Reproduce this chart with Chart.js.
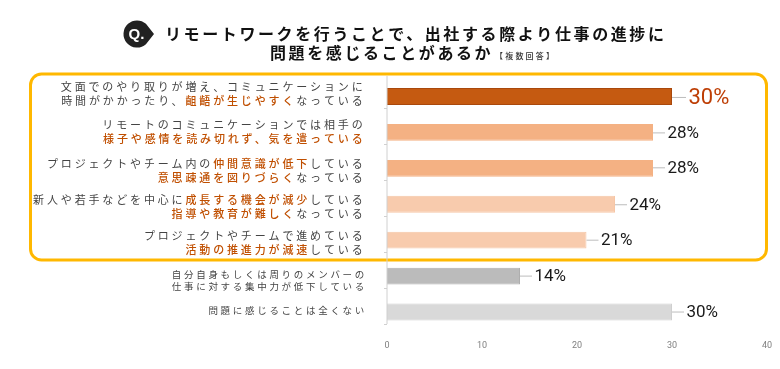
<!DOCTYPE html>
<html lang="ja">
<head>
<meta charset="utf-8">
<style>
    body { margin: 0; background: #fff; }
    canvas { display: block; }
</style>
<script src="https://cdn.jsdelivr.net/npm/chart.js@4/dist/chart.umd.js"></script>
</head>
<body>
<canvas id="myChart" width="780" height="369"></canvas>
<script>
// * marks the orange part of a label line
const categories = [
    ['文面でのやり取りが増え、コミュニケーションに', '時間がかかったり、*齟齬が生じやすく*なっている'],
    ['リモートのコミュニケーションでは相手の', '*様子や感情を読み切れず、気を遣っている*'],
    ['プロジェクトやチーム内の*仲間意識が低下*している', '*意思疎通を図りづらく*なっている'],
    ['新人や若手などを中心に*成長する機会が減少*している', '*指導や教育が難しく*なっている'],
    ['プロジェクトやチームで進めている', '*活動の推進力が減速*している'],
    ['自分自身もしくは周りのメンバーの', '仕事に対する集中力が低下している'],
    ['問題に感じることは全くない']
];
const values = [30, 28, 28, 24, 21, 14, 30];
const xTicks = [0, 10, 20, 30, 40];
const titleLines = ['リモートワークを行うことで、出社する際より仕事の進捗に', '問題を感じることがあるか'];
const titleNote = '【複数回答】';

const barColors = ['#C55A11', '#F4B183', '#F4B183', '#F8CBAD', '#F8CBAD', '#BBBBBB', '#D9D9D9'];
const barBorders = ['#A9480C', '#F4B183', '#F4B183', '#F6C6A6', '#F6C6A6', '#AEAEAE', '#CFCFCF'];
const labelNudge = [-2.5, -0.5, 2.5, 3, 3, 4.5, -2];
const valueNudge = [1, 0.5, -0.5, 0.5, 0, 0, 0];
const jpFont = '"Noto Sans CJK JP", "Noto Sans", sans-serif';

function drawLine(c, text, rightX, y, size, spacing) {
    c.font = '400 ' + size + 'px ' + jpFont;
    c.letterSpacing = spacing + 'px';
    c.textAlign = 'left';
    c.textBaseline = 'middle';
    var parts = text.split('*');
    var width = c.measureText(parts.join('')).width;
    var x = rightX - width;
    parts.forEach(function (part, i) {
        c.font = (i % 2 ? '500 ' : '400 ') + size + 'px ' + jpFont;
        c.fillStyle = i % 2 ? '#C04F00' : '#444444';
        c.fillText(part, x, y);
        x += c.measureText(part).width;
    });
    c.letterSpacing = '0px';
}

const drawExtras = {
    id: 'drawExtras',
    afterDraw(chart) {
        const c = chart.ctx;
        const xs = chart.scales.x;
        const ys = chart.scales.y;
        c.save();

        // frame round the first five rows
        c.strokeStyle = '#FFB800';
        c.lineWidth = 3;
        c.beginPath();
        c.roundRect(30.5, 74, 736, 186, 11);
        c.stroke();

        // Q mark
        c.fillStyle = '#222222';
        c.beginPath();
        c.arc(137, 34, 13.5, Math.PI * 0.27, Math.PI * 1.73);
        c.lineTo(154, 34);
        c.closePath();
        c.fill();
        c.fillStyle = '#fff';
        c.font = '700 15px "Liberation Sans", sans-serif';
        c.textAlign = 'center';
        c.textBaseline = 'middle';
        c.fillText('Q.', 136.5, 34.5);

        // title
        c.fillStyle = '#111111';
        c.textAlign = 'left';
        c.font = '700 16px ' + jpFont;
        c.letterSpacing = '2.6px';
        c.fillText(titleLines[0], 165, 34);
        c.fillText(titleLines[1], 270, 53);
        c.font = '500 8px ' + jpFont;
        c.letterSpacing = '2.2px';
        c.fillStyle = '#333333';
        c.fillText(titleNote, 495, 56);
        c.letterSpacing = '0px';

        // y axis line and its small ticks
        c.strokeStyle = '#D0D0D0';
        c.lineWidth = 1;
        c.beginPath();
        c.moveTo(387, 76);
        c.lineTo(387, 324);
        categories.forEach(function (cat, i) {
            var tickY = Math.round(ys.getPixelForValue(i) + 12) + 0.5;
            c.moveTo(384, tickY);
            c.lineTo(387, tickY);
        });
        c.stroke();

        categories.forEach(function (lines, i) {
            var y = ys.getPixelForValue(i) + labelNudge[i];
            var small = i >= 5;
            var size = small ? 9.5 : 11;
            var spacing = small ? 2.7 : 2.85;
            var gap = small ? 11.5 : 14;
            lines.forEach(function (line, k) {
                var lineY = y + (k - (lines.length - 1) / 2) * gap;
                drawLine(c, line, small ? 367 : 365.5, lineY, size, spacing);
            });

            // leader line and value
            var end = xs.getPixelForValue(values[i]);
            var top = i === 0;
            var valueY = ys.getPixelForValue(i) + valueNudge[i];
            c.strokeStyle = '#BDBDBD';
            c.beginPath();
            c.moveTo(end, valueY);
            c.lineTo(end + (top ? 14 : 12), valueY);
            c.stroke();
            c.fillStyle = top ? '#BE3F06' : '#1A1A1A';
            c.font = (top ? 22 : 17) + 'px Roboto, sans-serif';
            c.textAlign = 'left';
            c.textBaseline = 'middle';
            c.fillText(values[i] + '%', end + (top ? 16.5 : 14.5), valueY + 1);
        });
        c.restore();
    }
};

new Chart(document.getElementById('myChart'), {
    type: 'bar',
    data: {
        labels: categories.map(function (lines) { return lines.join('').replace(/\*/g, ''); }),
        datasets: [{
            data: values,
            backgroundColor: barColors,
            borderColor: barBorders,
            borderWidth: 1,
            barPercentage: 0.47,
            categoryPercentage: 1
        }]
    },
    options: {
        indexAxis: 'y',
        responsive: false,
        animation: false,
        layout: { padding: { left: 387, right: 13, top: 78.5, bottom: 0 } },
        plugins: { legend: { display: false }, tooltip: { enabled: false } },
        scales: {
            x: {
                min: 0,
                max: 40,
                afterBuildTicks(scale) {
                    scale.ticks = xTicks.map(function (v) { return { value: v }; });
                },
                afterFit(scale) { scale.height = 39; },
                grid: { display: false },
                border: { display: false },
                ticks: {
                    color: '#808080',
                    padding: 2,
                    maxRotation: 0,
                    font: { size: 9, family: 'Roboto, sans-serif' }
                }
            },
            y: { display: false }
        }
    },
    plugins: [drawExtras]
});
</script>
</body>
</html>
